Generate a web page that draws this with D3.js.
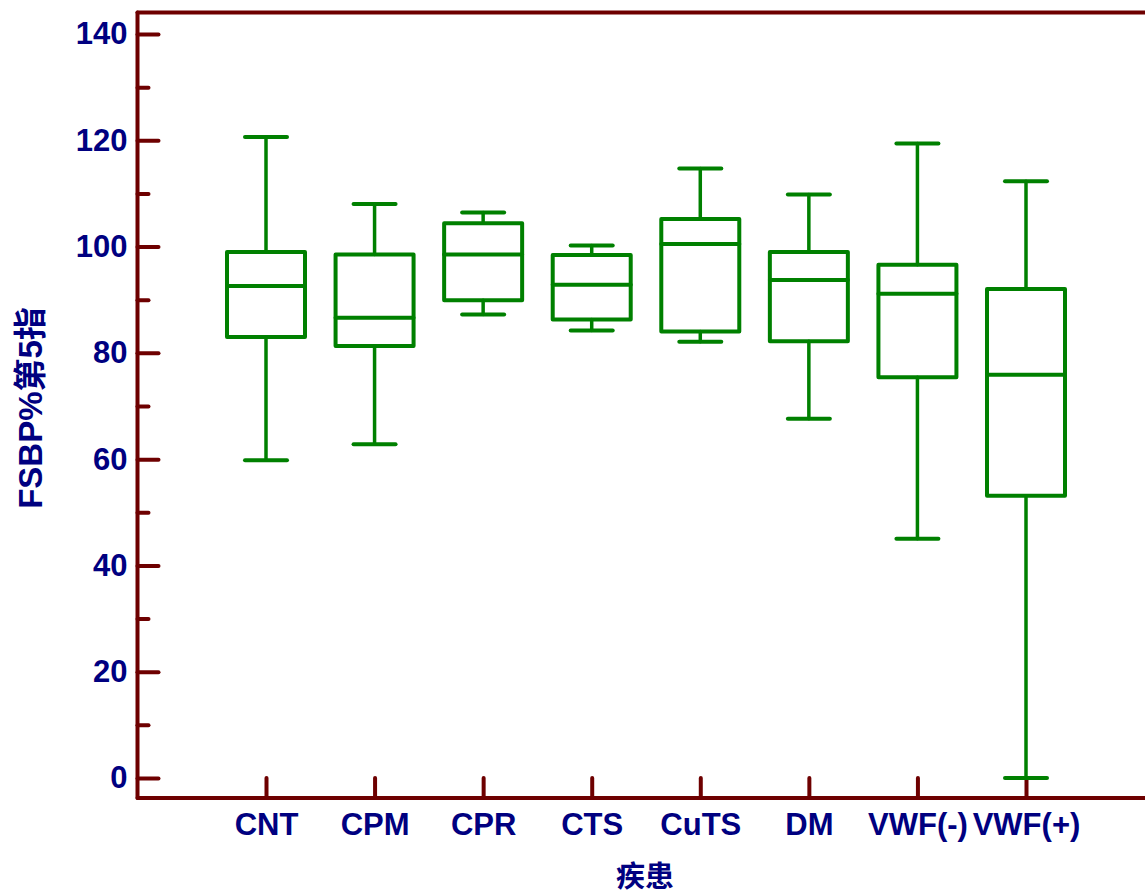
<!DOCTYPE html>
<html>
<head>
<meta charset="utf-8">
<script src="https://cdn.jsdelivr.net/npm/d3@7"></script>
<style>
  body { margin: 0; background: #fff; }
  text { font-family: "Liberation Sans", Arial, "Noto Sans CJK SC", sans-serif; font-weight: bold; fill: #000080; }
</style>
</head>
<body>
<div id="chart"></div>
<script>
// data
var groups = ['CNT', 'CPM', 'CPR', 'CTS', 'CuTS', 'DM', 'VWF(-)', 'VWF(+)'];
var whiskerLow  = [59.8, 62.8, 87.2, 84.2, 82.1, 67.6, 45.0, 0];
var q1          = [83.0, 81.3, 89.9, 86.3, 84.0, 82.2, 75.4, 53.1];
var median      = [92.6, 86.6, 98.5, 92.8, 100.5, 93.7, 91.1, 75.9];
var q3          = [99.0, 98.5, 104.4, 98.4, 105.2, 99.0, 96.6, 92.0];
var whiskerHigh = [120.6, 108.0, 106.4, 100.2, 114.7, 109.8, 119.4, 112.3];
var majorTicks = [0, 20, 40, 60, 80, 100, 120, 140];
var minorTicks = [10, 30, 50, 70, 90, 110, 130];

var W = 1145, H = 892;
var frame = { left: 137.5, top: 12.5, bottom: 798, right: 1145 };
var axisColor = '#6e0000', boxColor = '#008000';

var data = groups.map(function(g, i) {
  return { group: g, lo: whiskerLow[i], q1: q1[i], med: median[i], q3: q3[i], hi: whiskerHigh[i] };
});

var svg = d3.select('#chart').append('svg')
  .attr('width', W)
  .attr('height', H);

var y = d3.scaleLinear().domain([0, 140]).range([778, 34]);
var x = d3.scalePoint().domain(groups).range([266, 1026]);

var boxHalf = 39, capHalf = 21;

// y axis, ticks pointing inwards
var yMajor = d3.axisLeft(y).tickValues(majorTicks).tickSizeInner(-21).tickSizeOuter(0).tickPadding(10);
var yMinor = d3.axisLeft(y).tickValues(minorTicks).tickSizeInner(-11).tickSizeOuter(0).tickFormat('');

function styleAxis(g) {
  g.select('.domain').remove();
  g.selectAll('line').attr('stroke', axisColor).attr('stroke-width', 4).attr('stroke-linecap', 'round');
  g.selectAll('text').attr('fill', '#000080').style('font-size', '31px').attr('font-family', null);
}

svg.append('g')
  .attr('transform', 'translate(' + frame.left + ',0)')
  .call(yMajor)
  .call(styleAxis);

svg.append('g')
  .attr('transform', 'translate(' + frame.left + ',0)')
  .call(yMinor)
  .call(styleAxis);

// x axis, ticks pointing up
var xAxis = d3.axisBottom(x).tickSizeInner(-20).tickSizeOuter(0).tickPadding(15);
svg.append('g')
  .attr('transform', 'translate(0,' + frame.bottom + ')')
  .call(xAxis)
  .call(styleAxis);

// frame lines
var frameG = svg.append('g').attr('stroke', axisColor).attr('stroke-width', 4).attr('stroke-linecap', 'round');
frameG.append('line').attr('x1', frame.left).attr('x2', frame.left).attr('y1', frame.top).attr('y2', frame.bottom);
frameG.append('line').attr('x1', frame.left).attr('x2', frame.right + 5).attr('y1', frame.top).attr('y2', frame.top);
frameG.append('line').attr('x1', frame.left).attr('x2', frame.right + 5).attr('y1', frame.bottom).attr('y2', frame.bottom);

// boxes
var boxes = svg.append('g').selectAll('g.box')
  .data(data)
  .enter().append('g')
  .attr('class', 'box')
  .attr('stroke', boxColor)
  .attr('fill', 'none')
  .attr('stroke-linecap', 'round')
  .attr('stroke-linejoin', 'round');

// whiskers
boxes.append('line')
  .attr('x1', function(d) { return x(d.group); })
  .attr('x2', function(d) { return x(d.group); })
  .attr('y1', function(d) { return y(d.hi); })
  .attr('y2', function(d) { return y(d.q3); })
  .attr('stroke-width', 3.5);
boxes.append('line')
  .attr('x1', function(d) { return x(d.group); })
  .attr('x2', function(d) { return x(d.group); })
  .attr('y1', function(d) { return y(d.q1); })
  .attr('y2', function(d) { return y(d.lo); })
  .attr('stroke-width', 3.5);

// caps
['hi', 'lo'].forEach(function(k) {
  boxes.append('line')
    .attr('x1', function(d) { return x(d.group) - capHalf; })
    .attr('x2', function(d) { return x(d.group) + capHalf; })
    .attr('y1', function(d) { return y(d[k]); })
    .attr('y2', function(d) { return y(d[k]); })
    .attr('stroke-width', 4);
});

boxes.append('rect')
  .attr('x', function(d) { return x(d.group) - boxHalf; })
  .attr('y', function(d) { return y(d.q3); })
  .attr('width', boxHalf * 2)
  .attr('height', function(d) { return y(d.q1) - y(d.q3); })
  .attr('stroke-width', 4);

boxes.append('line')
  .attr('x1', function(d) { return x(d.group) - boxHalf; })
  .attr('x2', function(d) { return x(d.group) + boxHalf; })
  .attr('y1', function(d) { return y(d.med); })
  .attr('y2', function(d) { return y(d.med); })
  .attr('stroke-width', 4);

// axis titles
svg.append('text')
  .attr('x', 645)
  .attr('y', 887)
  .attr('text-anchor', 'middle')
  .style('font-size', '29px')
  .text('疾患');

svg.append('text')
  .attr('transform', 'translate(42,408) rotate(-90)')
  .attr('text-anchor', 'middle')
  .style('font-size', '33px')
  .text('FSBP%第5指');
</script>
</body>
</html>
